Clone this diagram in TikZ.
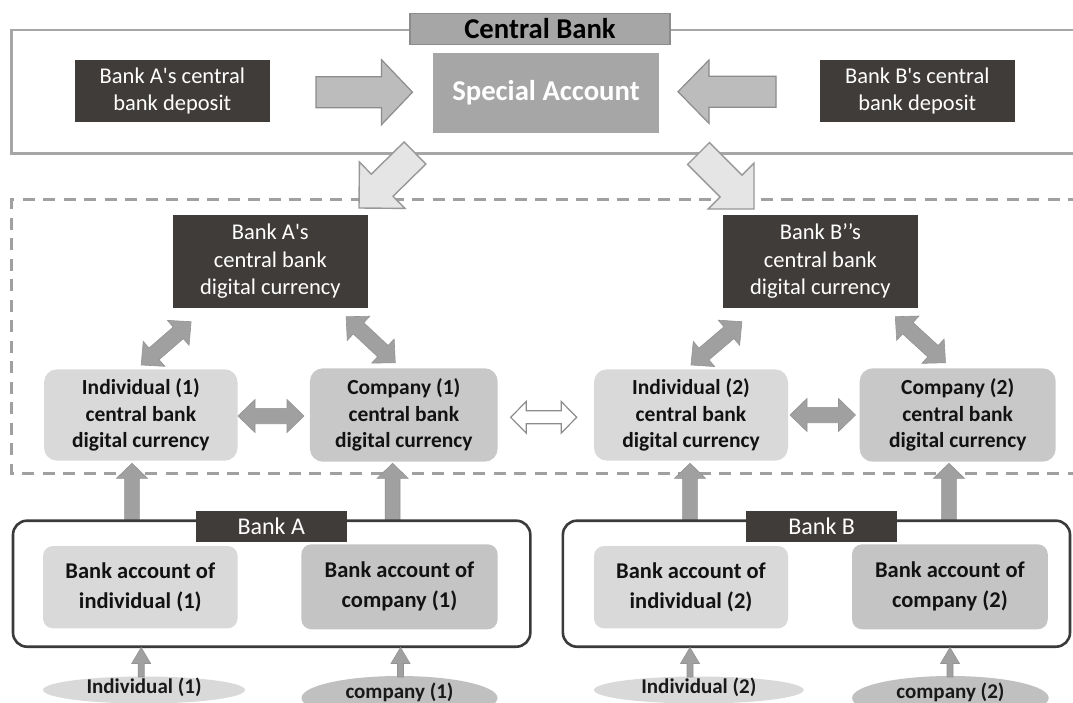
\documentclass[tikz,border=0pt]{standalone}
\usepackage{fontspec}
\setmainfont{Carlito}[Ligatures=TeXOff]
\usetikzlibrary{calc,shapes.geometric}
\definecolor{darkfill}{HTML}{403C3A}
\definecolor{midgray}{HTML}{A6A6A6}
\definecolor{lightbox}{HTML}{D9D9D9}
\definecolor{compbox}{HTML}{C8C8C8}
\definecolor{acctcomp}{HTML}{C4C4C4}
\definecolor{ellcomp}{HTML}{C0C0C0}
\definecolor{arrgray}{HTML}{A0A0A0}
\definecolor{arrline}{HTML}{8C8C8C}
\definecolor{framegray}{HTML}{A6A6A6}
\definecolor{dashgray}{HTML}{A0A0A0}
\definecolor{bankline}{HTML}{3A3A3A}
\newcommand\fReg{\fontsize{22.5}{27.5}\selectfont}
\newcommand\fBoldCb{\bfseries\fontsize{21.5}{26.5}\selectfont}
\newcommand\fAcct{\bfseries\fontsize{22.5}{30}\selectfont}
\newcommand\fBig{\bfseries\fontsize{28.7}{34}\selectfont}
\newcommand\fBankLbl{\fontsize{24}{29}\selectfont}
\newcommand\fEll{\bfseries\fontsize{21}{25}\selectfont}
% single block arrow: style, from, to, shaft half, head half, head length
\newcommand\sarrow[6]{%
  \path[#1] ($(#2)!#4!90:(#3)$) -- ($(#3)!#6!(#2)!#4!-90:(#2)$) -- ($(#3)!#6!(#2)!#5!-90:(#2)$) -- (#3)
    -- ($(#3)!#6!(#2)!#5!90:(#2)$) -- ($(#3)!#6!(#2)!#4!90:(#2)$) -- ($(#2)!#4!-90:(#3)$) -- cycle;}
% double block arrow
\newcommand\darrow[6]{%
  \path[#1] (#2) -- ($(#2)!#6!(#3)!#5!90:(#3)$) -- ($(#2)!#6!(#3)!#4!90:(#3)$)
    -- ($(#3)!#6!(#2)!#4!-90:(#2)$) -- ($(#3)!#6!(#2)!#5!-90:(#2)$) -- (#3)
    -- ($(#3)!#6!(#2)!#5!90:(#2)$) -- ($(#3)!#6!(#2)!#4!90:(#2)$)
    -- ($(#2)!#6!(#3)!#4!-90:(#3)$) -- ($(#2)!#6!(#3)!#5!-90:(#3)$) -- cycle;}
\tikzset{
  darkbox/.style={fill=darkfill, text=white, align=center, inner sep=0pt, font=\fReg},
  graybox/.style={fill=midgray, align=center, inner sep=0pt},
  cbdcbox/.style={rounded corners=13pt, align=center, inner sep=0pt, text=black!93, font=\fBoldCb},
  acctbox/.style={rounded corners=10pt, align=center, inner sep=0pt, text=black!93, font=\fAcct},
  bankframe/.style={draw=bankline, line width=2.6pt, rounded corners=14pt, fill=white},
  ell/.style={ellipse, inner sep=0pt},
  ltext/.style={font=\fEll, text=black!90, inner sep=0pt},
  flowarrow/.style={fill=midgray!75!white, draw=arrline, line width=1.2pt, line join=miter},
  diagarrow/.style={fill=black!10, draw=arrline!90!white, line width=1.4pt, line join=miter},
  thickarrow/.style={fill=arrgray, draw=arrgray!92!black, line width=0.6pt},
  whitearrow/.style={fill=white, draw=arrline, line width=1.2pt, line join=miter},
}
\begin{document}
\begin{tikzpicture}[x=1pt,y=-1pt]
\useasboundingbox (0,0) rectangle (1073,703);
\fill[white] (0,0) rectangle (1073,703);

% ---------------- Central bank ----------------
\draw[framegray, line width=2.6pt] (11.4,30) rectangle (1090,153.3);
\node[graybox, draw=arrline, line width=1.2pt, minimum width=260pt, minimum height=31pt, font=\fBig, text=black] (cblabel) at (540,28.8) {Central Bank};
\node[graybox, minimum width=226pt, minimum height=79.4pt, font=\fBig, text=white] (sa) at (546,93) {Special Account};
\node[darkbox, minimum width=194.5pt, minimum height=61.7pt] (depA) at (172.3,90.9) {Bank A's central\\bank deposit};
\node[darkbox, minimum width=195pt, minimum height=61.7pt] (depB) at (917.3,90.9) {Bank B's central\\bank deposit};

\coordinate (raS) at (316,92.2);  \coordinate (raE) at (412.5,92.2);
\coordinate (laS) at (776,91.7);  \coordinate (laE) at (678,91.7);
\sarrow{flowarrow}{raS}{raE}{15.5pt}{32.5pt}{31pt}
\sarrow{flowarrow}{laS}{laE}{15.5pt}{31.7pt}{31pt}

% ---------------- dashed CBDC region ----------------
\draw[dashgray, line width=3pt, dash pattern=on 12pt off 8.5pt] (1100,473.5) -- (11.4,473.5) -- (11.4,200) -- (1100,200);

\coordinate (dlS) at (415,153);   \coordinate (dlE) at (359,208);
\coordinate (drS) at (698.5,153.5); \coordinate (drE) at (754,209);
\sarrow{diagarrow}{dlS}{dlE}{15.5pt}{32.5pt}{32.5pt}
\sarrow{diagarrow}{drS}{drE}{15.5pt}{32.5pt}{32.5pt}

\node[darkbox, minimum width=195pt, minimum height=92.7pt] (cbA) at (270.3,261.3) {Bank A's\\central bank\\digital currency};
\node[darkbox, minimum width=195pt, minimum height=92.7pt] (cbB) at (820.4,261.3) {Bank B’’s\\central bank\\digital currency};

\node[cbdcbox, fill=lightbox, minimum width=193.5pt, minimum height=91.4pt] (ci1) at (140.8,415) {Individual (1)\\central bank\\digital currency};
\node[cbdcbox, fill=compbox, minimum width=187.7pt, minimum height=93.4pt] (cc1) at (403.8,415) {Company (1)\\central bank\\digital currency};
\node[cbdcbox, fill=lightbox, minimum width=194pt, minimum height=91.4pt] (ci2) at (691,415) {Individual (2)\\central bank\\digital currency};
\node[cbdcbox, fill=compbox, minimum width=196pt, minimum height=93.4pt] (cc2) at (957.7,415) {Company (2)\\central bank\\digital currency};

\coordinate (d1a) at (141.2,365);   \coordinate (d1b) at (191.1,321.7);
\coordinate (d2a) at (346.1,316.7); \coordinate (d2b) at (395.3,362.7);
\coordinate (d3a) at (691,365);     \coordinate (d3b) at (741.9,321.7);
\coordinate (d4a) at (895.3,316.7); \coordinate (d4b) at (945.5,362.7);
\coordinate (h1a) at (238,416);     \coordinate (h1b) at (304,416);
\coordinate (h2a) at (790,415);     \coordinate (h2b) at (855.5,415);
\coordinate (wa)  at (510.7,417.3); \coordinate (wb)  at (576.7,417.3);
\darrow{thickarrow}{d1a}{d1b}{7.7pt}{16.5pt}{17pt}
\darrow{thickarrow}{d2a}{d2b}{7.7pt}{16.5pt}{17pt}
\darrow{thickarrow}{d3a}{d3b}{7.7pt}{16.5pt}{17pt}
\darrow{thickarrow}{d4a}{d4b}{7.7pt}{16.5pt}{17pt}
\darrow{thickarrow}{h1a}{h1b}{7.7pt}{16.5pt}{17pt}
\darrow{thickarrow}{h2a}{h2b}{7.7pt}{16.5pt}{17pt}
\darrow{whitearrow}{wa}{wb}{6.5pt}{15.8pt}{15.5pt}

% ---------------- up arrows from banks ----------------
\coordinate (u1a) at (132,521);   \coordinate (u1b) at (132,463.3);
\coordinate (u2a) at (392.6,521); \coordinate (u2b) at (392.6,463.3);
\coordinate (u3a) at (690,521);   \coordinate (u3b) at (690,463.3);
\coordinate (u4a) at (949,521);   \coordinate (u4b) at (949,463.3);
\sarrow{thickarrow}{u1a}{u1b}{7.4pt}{15.5pt}{15pt}
\sarrow{thickarrow}{u2a}{u2b}{7.4pt}{15.5pt}{15pt}
\sarrow{thickarrow}{u3a}{u3b}{7.4pt}{15.5pt}{15pt}
\sarrow{thickarrow}{u4a}{u4b}{7.4pt}{15.5pt}{15pt}

% ---------------- Banks ----------------
\draw[bankframe] (13,520.7) rectangle (530.3,646.7);
\draw[bankframe] (562.9,520.7) rectangle (1070,646.7);
\node[darkbox, font=\fBankLbl, minimum width=151pt, minimum height=30.7pt] (bankA) at (271.2,526.3) {Bank A};
\node[darkbox, font=\fBankLbl, minimum width=150.6pt, minimum height=30.7pt] (bankB) at (821.7,526.3) {Bank B};

\node[acctbox, fill=lightbox, minimum width=194.6pt, minimum height=82.3pt] (ai1) at (140.3,587.2) {Bank account of\\individual (1)};
\node[acctbox, fill=acctcomp, minimum width=196.3pt, minimum height=85pt] (ac1) at (399.5,586.8) {Bank account of\\company (1)};
\node[acctbox, fill=lightbox, minimum width=194pt, minimum height=82.3pt] (ai2) at (691,587.2) {Bank account of\\individual (2)};
\node[acctbox, fill=acctcomp, minimum width=195.7pt, minimum height=85pt] (ac2) at (949.9,586.8) {Bank account of\\company (2)};

% ---------------- customers ----------------
\node[ell, fill=lightbox, minimum width=202pt, minimum height=27pt] (ei1) at (144,690) {};
\node[ell, fill=ellcomp, minimum width=196pt, minimum height=44pt] (ec1) at (399.5,698) {};
\node[ell, fill=lightbox, minimum width=209.6pt, minimum height=27pt] (ei2) at (698.8,690) {};
\node[ell, fill=ellcomp, minimum width=196.6pt, minimum height=44pt] (ec2) at (950.4,698) {};
\node[ltext] (ti1) at (144,687) {Individual (1)};
\node[ltext] (tc1) at (399.5,692.5) {company (1)};
\node[ltext] (ti2) at (698.8,687) {Individual (2)};
\node[ltext] (tc2) at (950.4,692.5) {company (2)};

\coordinate (s1a) at (141.2,677); \coordinate (s1b) at (141.2,647.5);
\coordinate (s2a) at (400.5,677); \coordinate (s2b) at (400.5,647.5);
\coordinate (s3a) at (690,677);   \coordinate (s3b) at (690,647.5);
\coordinate (s4a) at (950,677);   \coordinate (s4b) at (950,647.5);
\sarrow{thickarrow}{s1a}{s1b}{3pt}{9.5pt}{16pt}
\sarrow{thickarrow}{s2a}{s2b}{3pt}{9.5pt}{16pt}
\sarrow{thickarrow}{s3a}{s3b}{3pt}{9.5pt}{16pt}
\sarrow{thickarrow}{s4a}{s4b}{3pt}{9.5pt}{16pt}
\end{tikzpicture}
\end{document}
